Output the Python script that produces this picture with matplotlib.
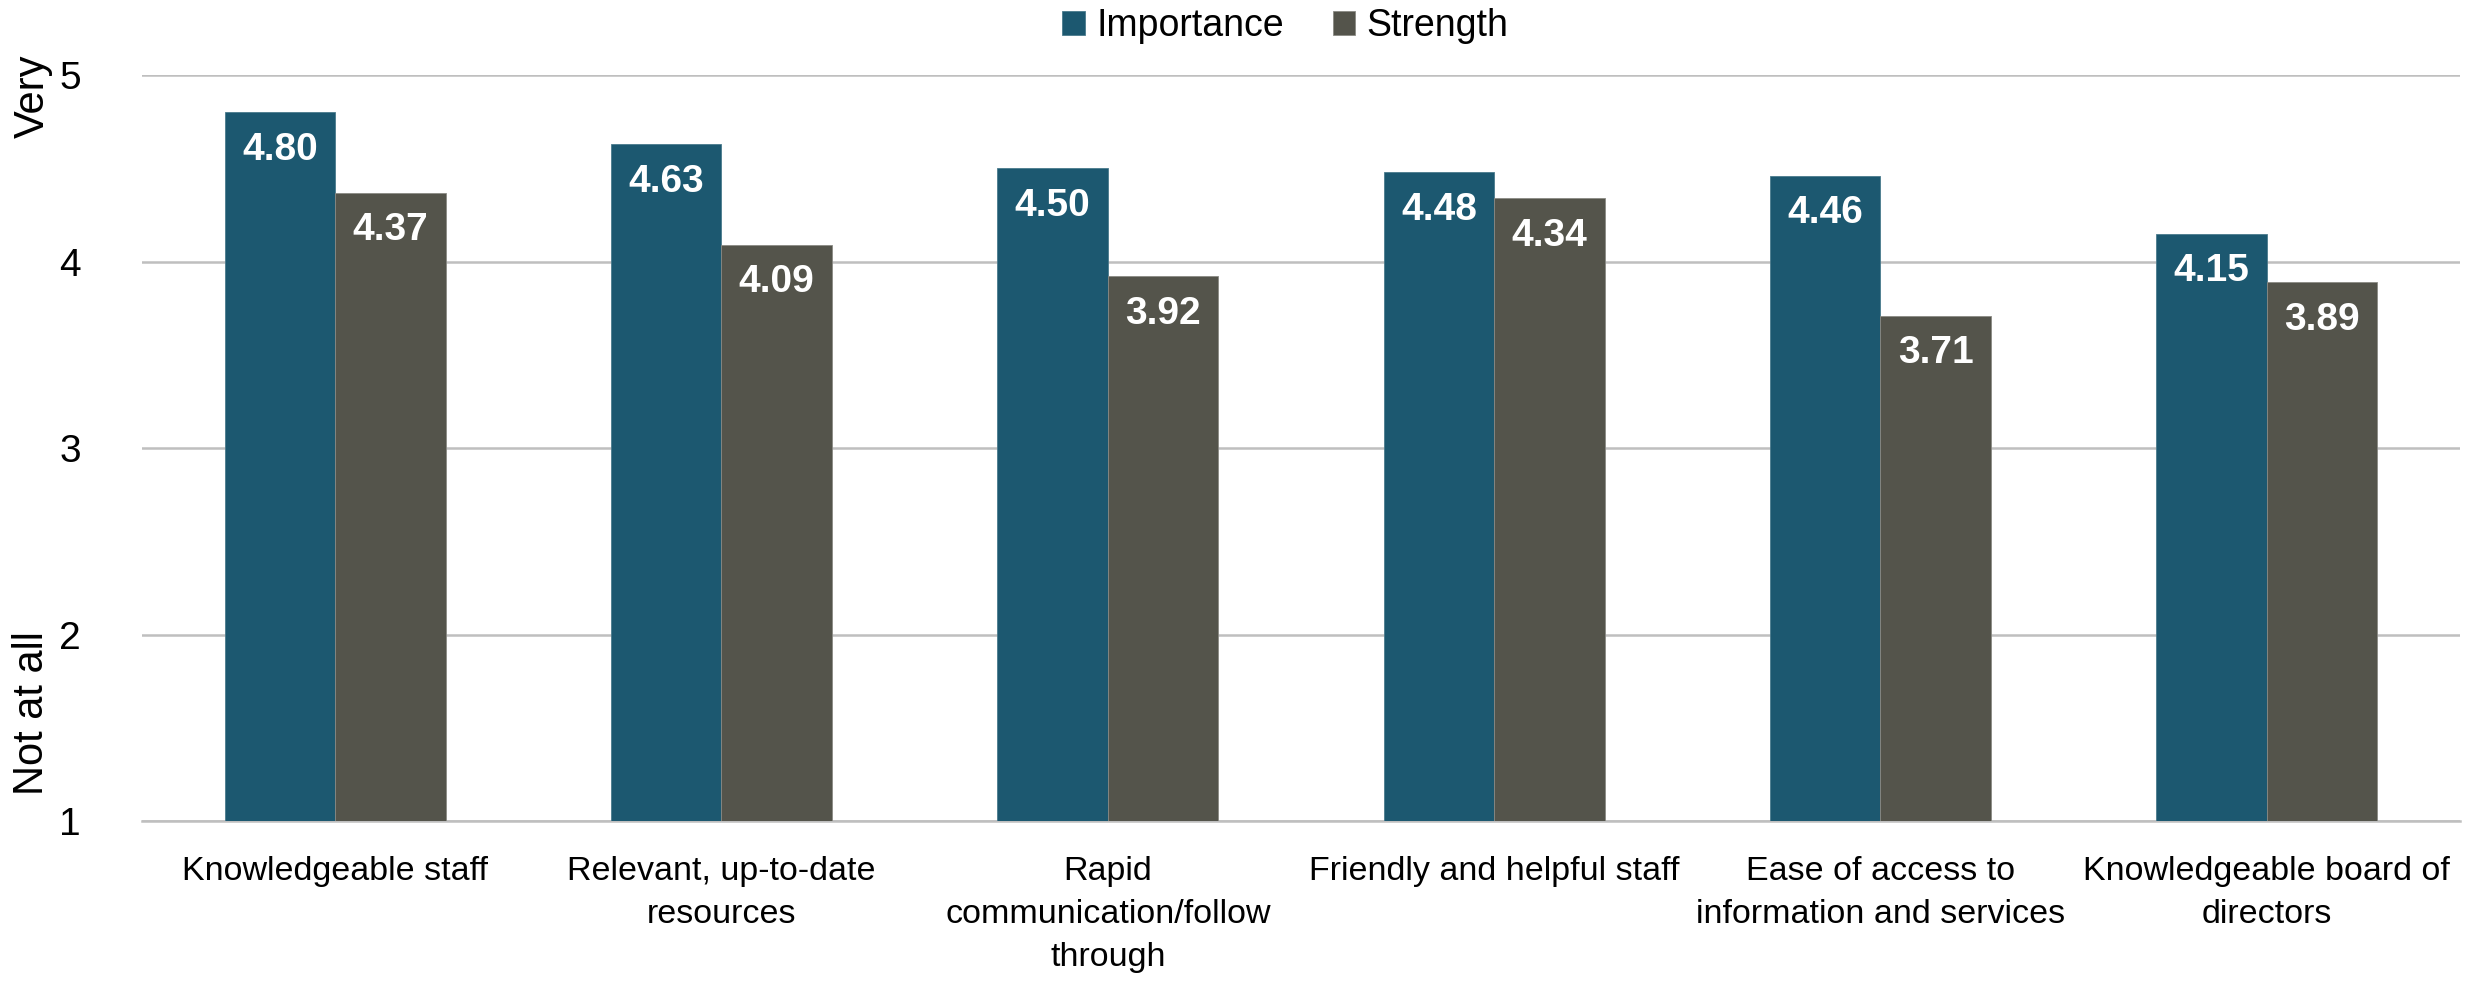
import numpy as np
import matplotlib
matplotlib.use('Agg')
import matplotlib.pyplot as plt

plt.rcParams['font.family'] = ['Liberation Sans', 'DejaVu Sans']

# 데이터
categories = ['Knowledgeable staff', 'Relevant, up-to-date\nresources',
              'Rapid\ncommunication/follow\nthrough', 'Friendly and helpful staff',
              'Ease of access to\ninformation and services', 'Knowledgeable board of\ndirectors']
importance = [4.80, 4.63, 4.50, 4.48, 4.46, 4.15]
strength = [4.37, 4.09, 3.92, 4.34, 3.71, 3.89]
yticks = [1, 2, 3, 4, 5]

c_imp = '#1c5870'
c_str = '#54544b'

fig = plt.figure(figsize=(24.86, 9.94), dpi=100)
ax = fig.add_axes([0.0571, 0.174, 0.9324, 0.7505])

x = np.arange(len(categories))
w = 0.286
b1 = ax.bar(x - w / 2, np.array(importance) - 1, w, bottom=1, color=c_imp,
            edgecolor='#4a7a8c', linewidth=0.6, label='Importance', zorder=3)
b2 = ax.bar(x + w / 2, np.array(strength) - 1, w, bottom=1, color=c_str,
            edgecolor='#8a8a84', linewidth=0.6, label='Strength', zorder=3)

# 값 라벨 (막대 안쪽 위)
for xs, vals in [(x - w / 2, importance), (x + w / 2, strength)]:
    for xi, v in zip(xs, vals):
        ax.annotate(f'{v:.2f}', (xi, v), xytext=(0, -27), textcoords='offset points',
                    ha='center', va='center', color='white', fontsize=28,
                    fontweight='bold', zorder=4)

ax.set_xlim(-0.5, len(categories) - 0.5)
ax.set_ylim(1, 5)
ax.set_yticks(yticks)
ax.set_yticklabels([str(t) for t in yticks], fontsize=28)
ax.set_xticks(x)
ax.set_xticklabels(categories, fontsize=24.5, linespacing=1.5)
ax.tick_params(axis='both', length=0)
ax.tick_params(axis='x', pad=25)
ax.tick_params(axis='y', pad=44)
ax.grid(axis='y', color='#bfbfbf', linewidth=1.8, zorder=0)
for s in ['top', 'right', 'left']:
    ax.spines[s].set_visible(False)
ax.spines['bottom'].set_color('#bfbfbf')
ax.spines['bottom'].set_linewidth(1.8)

# 축 라벨
fig.text(0.013, 1 - 96 / 994, 'Very', rotation=90, ha='center', va='center', fontsize=30)
fig.text(0.013, 1 - 713 / 994, 'Not at all', rotation=90, ha='center', va='center', fontsize=30)

fig.legend(handles=[b1, b2], loc='center', bbox_to_anchor=(0.517, 0.974), ncol=2,
           frameon=False, fontsize=27, handlelength=0.6, handleheight=0.6,
           handletextpad=0.3, columnspacing=1.3)

plt.savefig('out.png', dpi=100)
